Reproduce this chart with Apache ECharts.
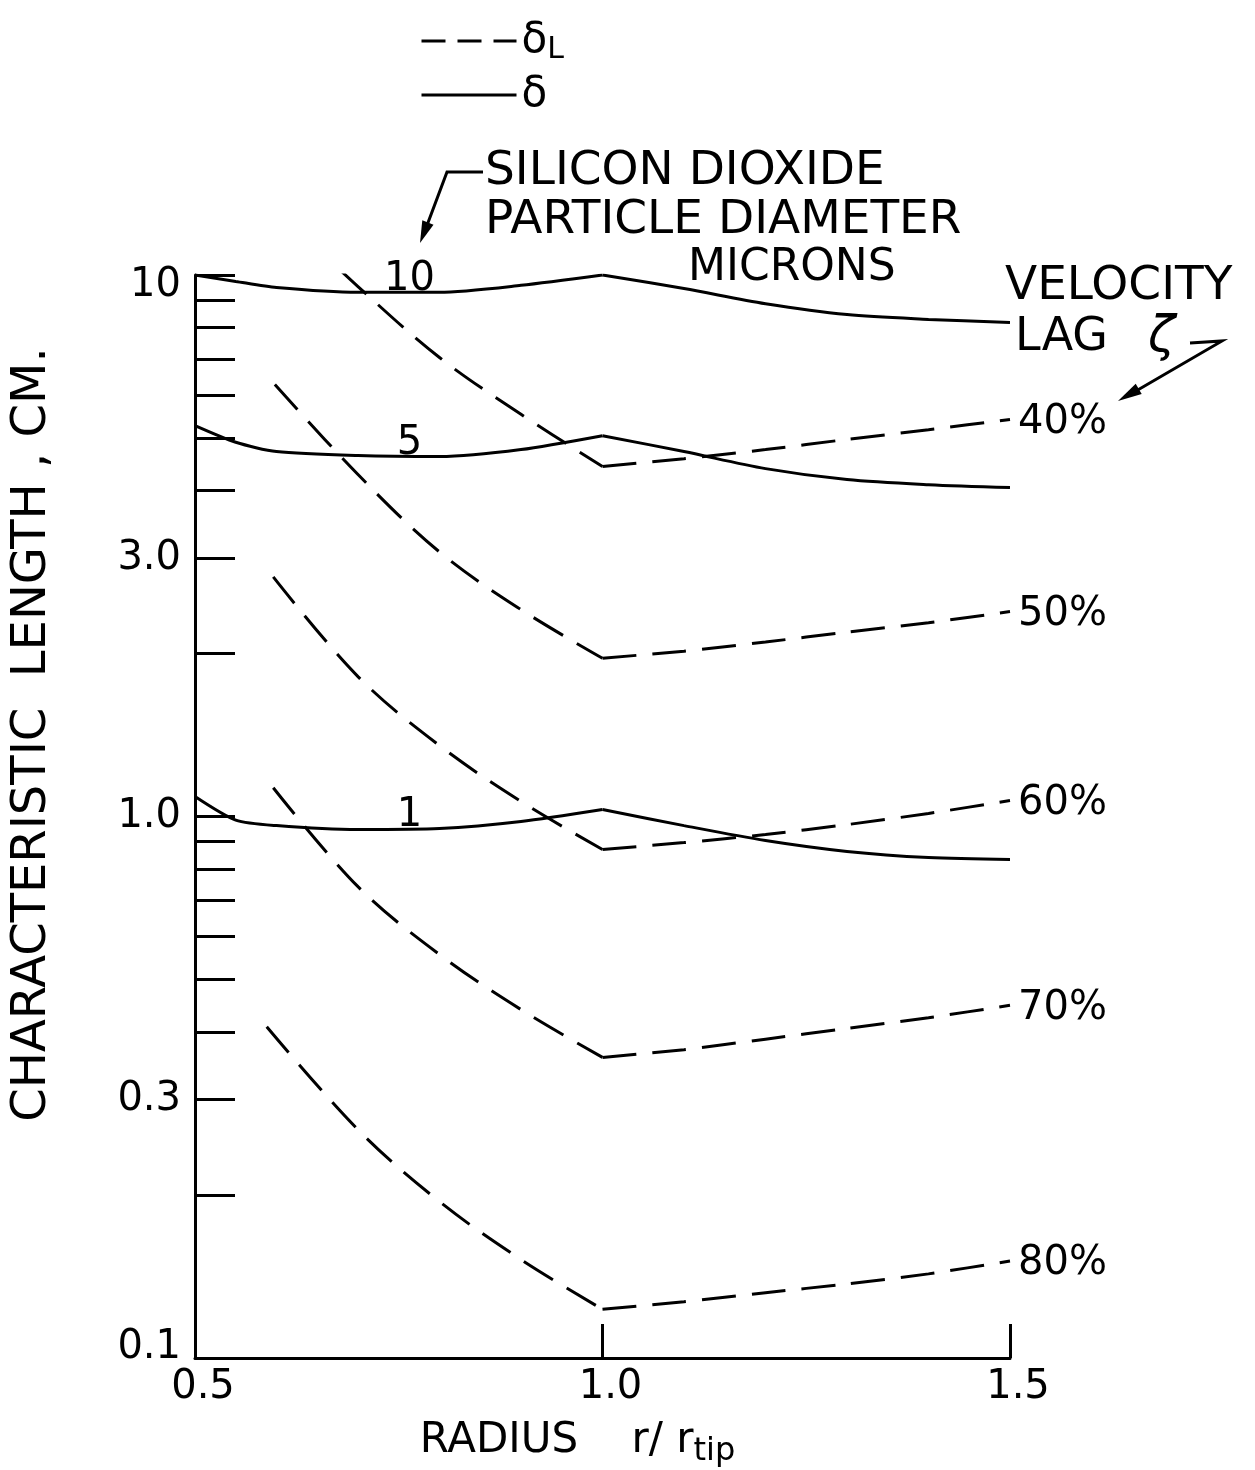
<!DOCTYPE html>
<html><head><meta charset="utf-8">
<script src="https://cdn.jsdelivr.net/npm/echarts@6/dist/echarts.min.js"></script>
<style>html,body{margin:0;padding:0;background:#fff}#c{width:1255px;height:1470px}</style>
</head><body><div id="c"></div>
<script>
// --- data ---
const radius = [0.5, 0.55, 0.6, 0.7, 0.8, 0.9, 1.0, 1.1, 1.2, 1.3, 1.4, 1.5];
const delta10 = [10.0, 9.73, 9.48, 9.29, 9.29, 9.57, 10.0, 9.44, 8.85, 8.45, 8.28, 8.17];
const delta5 = [5.27, 4.91, 4.72, 4.64, 4.62, 4.76, 5.05, 4.72, 4.39, 4.19, 4.10, 4.05];
const delta1 = [1.089, 0.985, 0.962, 0.946, 0.95, 0.979, 1.03, 0.962, 0.903, 0.862, 0.840, 0.833];
const diameterLabels = ['10', '5', '1'];

const lagRadius = [0.7, 0.8, 0.9, 1.0, 1.1, 1.2, 1.3, 1.4, 1.5];
const lagNames = ['40%', '50%', '60%', '70%', '80%'];
const lagStartRadius = [0.635, 0.598, 0.596, 0.596, 0.588];
const lagStartValue = [11.78, 6.28, 2.77, 1.13, 0.409];
const lag40 = [9.52, 7.04, 5.53, 4.43, 4.58, 4.76, 4.97, 5.18, 5.41];
const lag50 = [4.28, 3.08, 2.41, 1.96, 2.02, 2.10, 2.19, 2.28, 2.39];
const lag60 = [1.813, 1.352, 1.066, 0.869, 0.895, 0.926, 0.966, 1.013, 1.07];
const lag70 = [0.742, 0.556, 0.440, 0.359, 0.371, 0.388, 0.406, 0.425, 0.448];
const lag80 = [0.264, 0.1945, 0.152, 0.123, 0.127, 0.132, 0.137, 0.143, 0.151];

const yLabelValues = [0.1, 0.3, 1, 3, 10];
const yTickValues = [0.2, 0.3, 0.4, 0.5, 0.6, 0.7, 0.8, 0.9, 1, 2, 3, 4, 5, 6, 7, 8, 9, 10];
const xTickValues = [0.5, 1.0, 1.5];

// --- styling ---
const FONT = '"DejaVu Sans", "Liberation Sans", sans-serif';
const INK = '#000';
const DASH = [34, 16];
const KINK = 1.0;

const solidSets = [delta10, delta5, delta1];
const lagSets = [lag40, lag50, lag60, lag70, lag80];

function splitAtKink(points) {
  return [points.filter(p => p.value[0] <= KINK), points.filter(p => p.value[0] >= KINK)];
}

const series = [];
solidSets.forEach((vals, k) => {
  const pts = radius.map((r, i) => {
    const item = { value: [r, vals[i]] };
    if (r === 0.8) {
      item.label = {
        show: true, position: 'top', distance: 2, offset: [-30, 10],
        formatter: diameterLabels[k], color: INK, fontSize: 40, fontFamily: FONT
      };
    }
    return item;
  });
  const [left, right] = splitAtKink(pts);
  const common = {
    name: 'δ', type: 'line', silent: true,
    symbol: 'circle', symbolSize: 1, showSymbol: true,
    itemStyle: { color: 'rgba(0,0,0,0)' },
    lineStyle: { color: INK, width: 3, type: 'solid' }
  };
  series.push(Object.assign({}, common, { smooth: 0.25, data: left }));
  series.push(Object.assign({}, common, { smooth: 0.3, data: right }));
});
lagSets.forEach((vals, k) => {
  const pts = [{ value: [lagStartRadius[k], lagStartValue[k]] }].concat(lagRadius.map((r, i) => ({ value: [r, vals[i]] })));
  const [left, right] = splitAtKink(pts);
  const common = {
    name: 'δL', type: 'line', silent: true, symbol: 'none',
    lineStyle: { color: INK, width: 3, type: DASH }
  };
  series.push(Object.assign({}, common, { smooth: 0.35, data: left }));
  series.push(Object.assign({}, common, {
    smooth: 0.2, data: right,
    endLabel: { show: true, formatter: lagNames[k], distance: 8, offset: [0, 3], color: INK, fontSize: 40, fontFamily: FONT }
  }));
});

function fmtY(v) {
  const n = Number(v.toPrecision(3));
  if (n >= 10) return '{t|' + n + '}';
  if (n <= 0.1) return '{b|' + n.toFixed(1) + '}';
  return n.toFixed(1);
}

const option = {
  backgroundColor: '#fff',
  animation: false,
  textStyle: { fontFamily: FONT, color: INK },
  grid: { left: 195, right: 245, top: 275, bottom: 112, outerBoundsMode: 'none' },
  legend: {
    data: [
      { name: 'δL', lineStyle: { color: INK, width: 3, type: [24, 12] } },
      { name: 'δ', lineStyle: { color: INK, width: 3, type: 'solid' } }
    ],
    orient: 'vertical', left: 415, top: 12,
    itemWidth: 95, itemHeight: 14, itemGap: 6, selectedMode: false,
    itemStyle: { opacity: 0 },
    textStyle: {
      color: INK, fontSize: 42, fontFamily: FONT, lineHeight: 48,
      rich: {
        g: { fontSize: 42, fontFamily: FONT, color: INK },
        s: { fontSize: 30, fontFamily: FONT, color: INK, verticalAlign: 'bottom', padding: [18, 0, 0, 0] }
      }
    },
    formatter: n => n === 'δL' ? '{g|δ}{s|L}' : '{g|δ}'
  },
  xAxis: {
    type: 'value', min: 0.5, max: 1.5, interval: 0.5,
    name: '{n|RADIUS    r/ r}{s|tip}', nameLocation: 'middle', nameGap: 56,
    nameTextStyle: {
      padding: [0, 50, 0, 0],
      rich: {
        n: { fontSize: 42, fontFamily: FONT, color: INK },
        s: { fontSize: 32, fontFamily: FONT, color: INK, padding: [22, 0, 0, 0] }
      }
    },
    axisLine: { show: true, lineStyle: { color: INK, width: 3 } },
    axisTick: { show: true, inside: true, length: 34, lineStyle: { color: INK, width: 3 }, customValues: xTickValues },
    axisLabel: { color: INK, fontSize: 40, fontFamily: FONT, margin: 10, padding: [0, 0, 0, 16], formatter: v => v.toFixed(1), customValues: xTickValues },
    splitLine: { show: false }
  },
  yAxis: {
    type: 'log', logBase: 10, min: 0.1, max: 10,
    name: 'CHARACTERISTIC  LENGTH , CM.', nameLocation: 'middle', nameRotate: 90, nameGap: 138,
    nameTextStyle: { fontSize: 48, fontFamily: FONT, color: INK, padding: [0, 0, 0, 164] },
    axisLine: { show: true, lineStyle: { color: INK, width: 3 } },
    axisTick: { show: true, inside: true, length: 40, lineStyle: { color: INK, width: 3 }, customValues: yTickValues },
    axisLabel: {
      color: INK, fontSize: 40, fontFamily: FONT, margin: 14, formatter: fmtY, customValues: yLabelValues,
      rich: {
        t: { fontSize: 40, fontFamily: FONT, color: INK, padding: [22, 0, 0, 0] },
        b: { fontSize: 40, fontFamily: FONT, color: INK, padding: [0, 0, 20, 0] }
      }
    },
    splitLine: { show: false },
    minorTick: { show: false }
  },
  graphic: [
    { type: 'text', x: 485, y: 172, style: { text: 'SILICON DIOXIDE', fill: INK, font: '47px ' + FONT, textAlign: 'left', textVerticalAlign: 'middle' } },
    { type: 'text', x: 485, y: 221, style: { text: 'PARTICLE DIAMETER', fill: INK, font: '47px ' + FONT, textAlign: 'left', textVerticalAlign: 'middle' } },
    { type: 'text', x: 688, y: 269, style: { text: 'MICRONS', fill: INK, font: '44px ' + FONT, textAlign: 'left', textVerticalAlign: 'middle' } },
    { type: 'polyline', shape: { points: [[483, 172], [447, 172], [426, 228]] }, style: { stroke: INK, lineWidth: 3, fill: null } },
    { type: 'polygon', shape: { points: [[420, 243], [433.5, 224.7], [422.3, 220.3]] }, style: { fill: INK } },
    { type: 'text', x: 1005, y: 287, style: { text: 'VELOCITY', fill: INK, font: '47px ' + FONT, textAlign: 'left', textVerticalAlign: 'middle' } },
    { type: 'text', x: 1015, y: 338, style: { text: 'LAG', fill: INK, font: '46px ' + FONT, textAlign: 'left', textVerticalAlign: 'middle' } },
    { type: 'text', x: 1148, y: 338, style: { text: 'ζ', fill: INK, font: 'italic 50px ' + FONT, textAlign: 'left', textVerticalAlign: 'middle' } },
    { type: 'polyline', shape: { points: [[1190, 343], [1222, 341], [1136, 391]] }, style: { stroke: INK, lineWidth: 3, fill: null } },
    { type: 'polygon', shape: { points: [[1118, 401], [1141.7, 394.1], [1135.7, 383.7]] }, style: { fill: INK } }
  ],
  series: series
};

const chart = echarts.init(document.getElementById('c'), null, { renderer: 'canvas' });
chart.setOption(option);
</script>
</body></html>
